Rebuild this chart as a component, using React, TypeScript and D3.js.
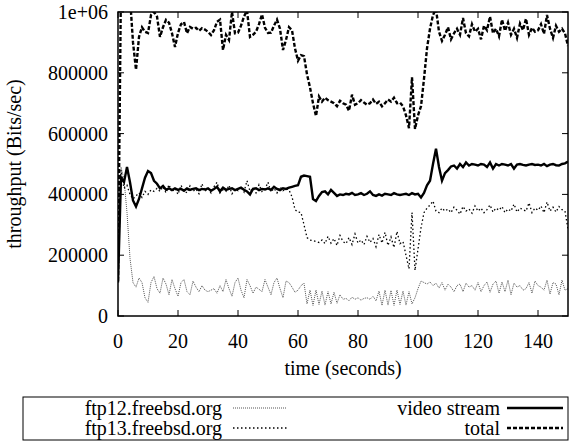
import React from "react";
import * as d3 from "d3";

// throughput samples, one per second from t = 0 to t = 150, in kbit/s (x UNIT)
const UNIT = 1000;
const videoStream = [
  110, 455, 440, 490, 440, 380, 360, 385, 420, 455,
  477, 470, 445, 435, 420, 428, 415, 420, 414, 420,
  415, 418, 412, 420, 415, 418, 420, 414, 418, 416,
  420, 412, 418, 425, 410, 422, 415, 418, 420, 414,
  418, 422, 415, 410, 400, 418, 420, 414, 418, 416,
  420, 415, 425, 418, 414, 420, 418, 422, 425, 428,
  430, 458, 462, 460, 458, 385, 378, 395, 408, 410,
  400, 415, 405, 395, 400, 398, 402, 400, 405, 398,
  400, 404, 398, 402, 410, 398, 395, 400, 396, 402,
  400, 398, 404, 400, 398, 400, 402, 398, 404, 400,
  402, 390, 405, 430, 445, 500, 550, 490, 445, 470,
  480, 492, 495, 485, 500, 490, 505, 495, 500, 498,
  495, 500, 498, 490, 505, 485, 500, 495, 500, 498,
  495, 500, 485, 498, 500, 497, 495, 498, 500, 497,
  498, 495, 500, 493, 498, 500, 496, 495, 500, 502,
  508,
];
const ftp12 = [
  120, 490, 450, 340, 190, 110, 95, 125, 110, 60,
  45, 110, 130, 90, 75, 125, 105, 70, 120, 90,
  65, 110, 120, 80, 70, 115, 95, 80, 100, 85,
  80, 85, 90, 75, 100, 80, 120, 90, 65, 110,
  125, 85, 60, 120, 100, 75, 95, 88, 80, 120,
  95, 70, 110, 125, 90, 60, 115, 110, 95, 78,
  85, 100, 108, 40, 85, 35, 85, 38, 82, 36,
  80, 40, 78, 42, 70, 55, 58, 50, 62, 55,
  60, 52, 58, 60, 55, 65, 50, 82, 35, 85,
  36, 84, 35, 85, 38, 82, 36, 80, 40, 60,
  90, 115, 110, 105, 112, 100, 108, 92, 110, 85,
  105, 95, 80, 100, 105, 80, 108, 95, 100, 85,
  110, 80, 100, 112, 78, 105, 115, 75, 112, 80,
  118, 70, 108, 95, 100, 85, 90, 110, 75, 115,
  100, 95, 85, 118, 72, 110, 105, 70, 118, 85,
  90,
];
const ftp13 = [
  120, 480, 420, 430, 400, 385, 395, 405, 390, 410,
  400, 415, 410, 420, 410, 425, 405, 432, 408, 420,
  400, 430, 412, 405, 428, 410, 418, 402, 435, 410,
  420, 405, 425, 440, 405, 415, 410, 430, 402, 418,
  412, 425, 408, 445, 410, 420, 405, 432, 410, 418,
  440, 408, 420, 405, 425, 412, 418, 415, 392, 350,
  342, 340, 300, 258, 250, 248, 245, 242, 250, 238,
  262, 240, 255, 232, 265, 245, 238, 258, 235, 270,
  240, 250, 235, 262, 242, 255, 228, 268, 240, 275,
  232, 260, 225, 278, 238, 245, 200, 155, 340, 150,
  220, 290, 340, 355, 365, 378, 345, 340, 355, 345,
  352, 340, 358, 348, 335, 360, 345, 352, 338, 362,
  345, 355, 340, 350, 365, 342, 355, 348, 360, 340,
  352, 345, 368, 342, 355, 350, 345, 372, 340, 355,
  348, 362, 340, 375, 345, 358, 342, 360, 350, 345,
  285,
];
const total = [
  115, 1100, 1150, 1100, 1050, 900, 810, 918, 950, 935,
  931, 990, 1000, 985, 918, 950, 974, 965, 930, 885,
  931, 960, 967, 930, 951, 945, 948, 938, 947, 942,
  935, 924, 940, 968, 975, 875, 925, 908, 1000, 930,
  932, 955, 985, 1005, 918, 925, 935, 960, 992, 948,
  931, 932, 955, 975, 945, 875, 908, 950, 940, 880,
  840, 858, 855, 795, 752, 700, 658, 722, 705, 718,
  710, 705, 700, 690, 708, 700, 695, 675, 728, 695,
  700, 710, 702, 695, 700, 712, 698, 705, 690, 700,
  712, 705, 718, 700, 702, 690, 660, 618, 785, 615,
  660, 690, 780, 880, 945, 990, 1010, 935, 905, 925,
  950, 910, 930, 945, 925, 980, 930, 920, 960, 935,
  945, 910, 955, 940, 985, 930, 945, 920, 975, 938,
  965, 925, 945, 915, 962, 940, 978, 925, 948, 935,
  940, 960, 928, 990, 945, 915, 955, 935, 945, 930,
  888,
];

const xTicks = [0, 20, 40, 60, 80, 100, 120, 140];
const yTicks = [0, 200000, 400000, 600000, 800000, 1000000];
const yTickLabels = ["0", "200000", "400000", "600000", "800000", "1e+06"];
const xTitle = "time (seconds)";
const yTitle = "throughput (Bits/sec)";
const legendLeft = ["ftp12.freebsd.org", "ftp13.freebsd.org"];
const legendRight = ["video stream", "total"];

const W = 572;
const H = 442;
const L = 118, R = 568, T = 12, B = 316;
const FONT = '"Liberation Serif", "Times New Roman", serif';

const styles = {
  video: { stroke: "#000", strokeWidth: 2.4, dash: undefined as string | undefined },
  total: { stroke: "#000", strokeWidth: 2.4, dash: "4,2" },
  ftp13: { stroke: "#000", strokeWidth: 1.3, dash: "1.5,2.5" },
  ftp12: { stroke: "#555", strokeWidth: 1, dash: "1,1" },
};

export default function App() {
  const x = d3.scaleLinear().domain([0, 150]).range([L, R]);
  const y = d3.scaleLinear().domain([0, 1000000]).range([B, T]);
  const line = d3
    .line<number>()
    .x((_, i) => x(i))
    .y((d) => y(d * UNIT));

  const series = [
    { data: ftp12, st: styles.ftp12 },
    { data: ftp13, st: styles.ftp13 },
    { data: videoStream, st: styles.video },
    { data: total, st: styles.total },
  ];

  const tick = 6;
  const legRows = [408, 428];
  const txt = { fontFamily: FONT, fontSize: 20 } as React.CSSProperties;

  return (
    <svg
      width={W}
      height={H}
      style={{ position: "absolute", left: 0, top: 0, background: "#fff", fontFamily: FONT }}
    >
      <defs>
        <clipPath id="plotclip">
          <rect x={L} y={T} width={R - L} height={B - T} />
        </clipPath>
      </defs>
      <rect x={0} y={0} width={W} height={H} fill="#fff" />

      {xTicks.map((t) => (
        <g key={"xt" + t}>
          <line x1={x(t)} x2={x(t)} y1={B} y2={B - tick} stroke="#000" strokeWidth={1} />
          <line x1={x(t)} x2={x(t)} y1={T} y2={T + tick} stroke="#000" strokeWidth={1} />
          <text x={x(t)} y={B + 32} style={txt} textAnchor="middle">
            {String(t)}
          </text>
        </g>
      ))}
      {yTicks.map((v, i) => (
        <g key={"yt" + v}>
          <line x1={L} x2={L + tick} y1={y(v)} y2={y(v)} stroke="#000" strokeWidth={1} />
          <line x1={R} x2={R - tick} y1={y(v)} y2={y(v)} stroke="#000" strokeWidth={1} />
          <text x={L - 10} y={y(v) + 7} style={txt} textAnchor="end">
            {yTickLabels[i]}
          </text>
        </g>
      ))}

      <g clipPath="url(#plotclip)">
        {series.map((s, i) => (
          <path
            key={i}
            d={line(s.data) || ""}
            fill="none"
            stroke={s.st.stroke}
            strokeWidth={s.st.strokeWidth}
            strokeDasharray={s.st.dash}
            strokeLinejoin="miter"
          />
        ))}
      </g>

      <rect x={L} y={T} width={R - L} height={B - T} fill="none" stroke="#000" strokeWidth={1.5} />

      <text x={(L + R) / 2} y={375} style={txt} textAnchor="middle">
        {xTitle}
      </text>
      <text
        transform={`translate(21, ${(T + B) / 2}) rotate(-90)`}
        style={txt}
        textAnchor="middle"
      >
        {yTitle}
      </text>

      <rect x={23} y={397} width={545} height={43} fill="none" stroke="#000" strokeWidth={1} />
      {legendLeft.map((lab, i) => {
        const st = i === 0 ? styles.ftp12 : styles.ftp13;
        return (
          <g key={lab}>
            <text x={222} y={legRows[i] + 7} style={txt} textAnchor="end">
              {lab}
            </text>
            <line
              x1={233}
              x2={287}
              y1={legRows[i]}
              y2={legRows[i]}
              stroke={st.stroke}
              strokeWidth={st.strokeWidth}
              strokeDasharray={st.dash}
            />
          </g>
        );
      })}
      {legendRight.map((lab, i) => {
        const st = i === 0 ? styles.video : styles.total;
        return (
          <g key={lab}>
            <text x={500} y={legRows[i] + 7} style={txt} textAnchor="end">
              {lab}
            </text>
            <line
              x1={507}
              x2={563}
              y1={legRows[i]}
              y2={legRows[i]}
              stroke={st.stroke}
              strokeWidth={st.strokeWidth}
              strokeDasharray={st.dash}
            />
          </g>
        );
      })}
    </svg>
  );
}
